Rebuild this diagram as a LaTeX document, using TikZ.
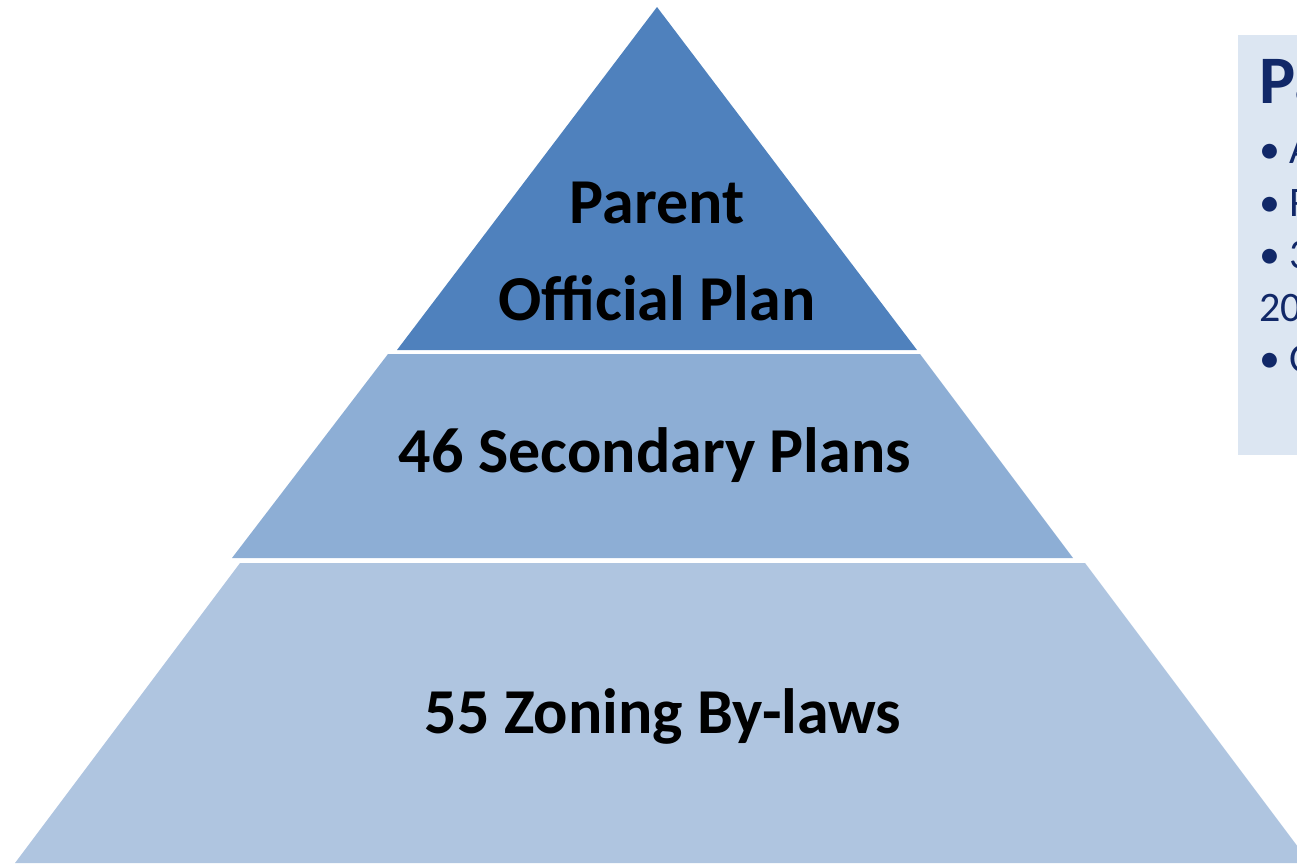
\documentclass[tikz,border=0pt]{standalone}
\usepackage{fontspec}
\setmainfont{Carlito}
\definecolor{tierTop}{HTML}{4F81BD}
\definecolor{tierMid}{HTML}{8DAED5}
\definecolor{tierLow}{HTML}{AFC5E0}
\definecolor{panelFill}{HTML}{DCE6F2}
\definecolor{panelText}{HTML}{112868}
\begin{document}
\begin{tikzpicture}[x = 0.5pt, y = -0.5pt,
        tierlabel/.style = {anchor = base, inner sep = 0pt, font = \fontsize{32}{38}\selectfont\bfseries},
        paneltitle/.style = {anchor = base west, inner sep = 0pt, text = panelText, font = \fontsize{34}{40}\selectfont\bfseries},
        panelline/.style = {anchor = base west, inner sep = 0pt, text = panelText, font = \fontsize{21}{25}\selectfont}]
                \useasboundingbox (0, 0) rectangle (1297, 863);
                % pyramid tiers
                \fill [tierTop] (657, 7) -- (917, 350) -- (397, 350) -- cycle;
                \fill [tierMid] (388, 354) -- (920, 354) -- (1073, 558) -- (232, 558) -- cycle;
                \fill [tierLow] (240, 563) -- (1085, 563) -- (1310, 863) -- (15, 863) -- cycle;
                % side panel, cut at the right edge
                \fill [panelFill] (1238, 35) rectangle (1340, 455);
                \draw 
                    node [tierlabel] (parent) at (657, 223) {Parent}
                    node [tierlabel] (official) at (657, 320) {Official Plan}
                    node [tierlabel] (secondary) at (655, 472) {46 Secondary Plans}
                    node [tierlabel] (zoning) at (663, 733) {55 Zoning By-laws};
                \draw 
                    node [paneltitle] (title) at (1259, 103) {Pa}
                    node [panelline] (itemA) at (1259, 163) {• A}
                    node [panelline] (itemR) at (1259, 216) {• R}
                    node [panelline] (itemT) at (1259, 268) {• 3}
                    node [panelline] (itemY) at (1259, 321) {20}
                    node [panelline] (itemO) at (1259, 372) {• O};
            \end{tikzpicture}
\end{document}
